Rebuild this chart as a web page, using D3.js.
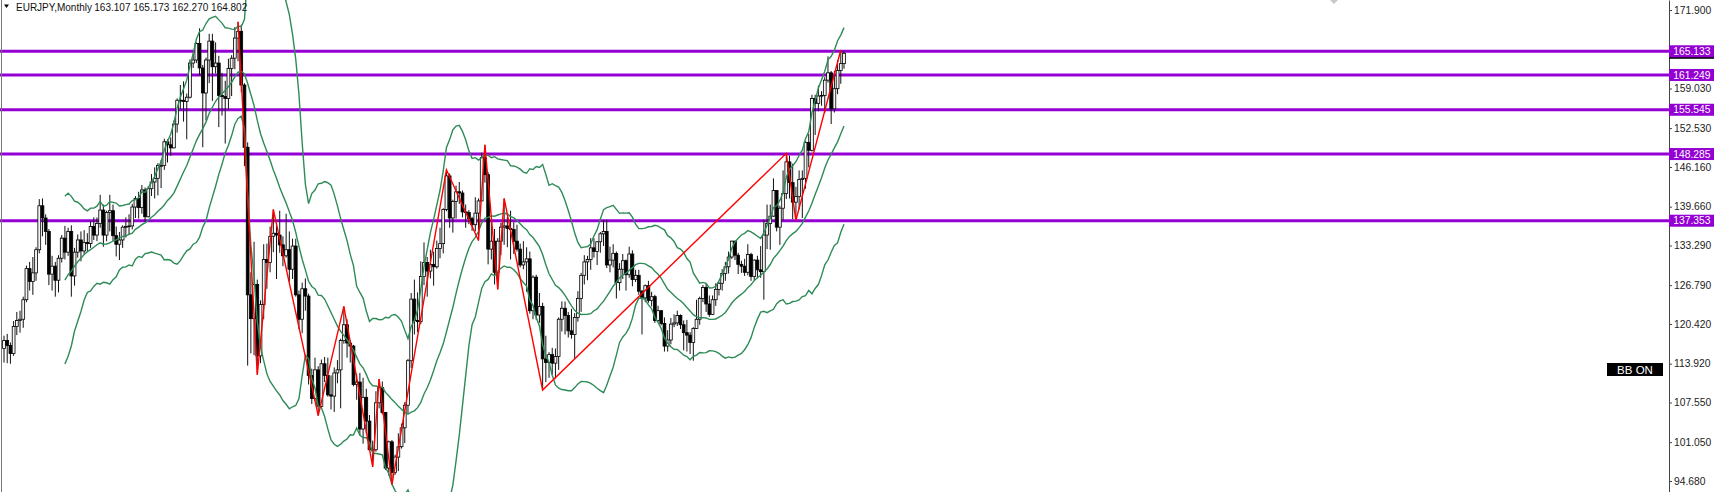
<!DOCTYPE html>
<html><head><meta charset="utf-8">
<script src="https://cdn.jsdelivr.net/npm/d3@7"></script>
<style>html,body{margin:0;padding:0;background:#fff;overflow:hidden}svg{display:block}</style>
</head><body>
<svg id="c" width="1718" height="492"></svg>
<script>
// ---- DATA (EURJPY monthly) ----
const startYear = 2002, startMonth = 6;   // first bar: 2002-06
const firstOpen = 116.4;
// closes, one line per year
const closes = [
 117.7,116.9,115.6,120.0,121.0,121.2,124.4,
 129.5,127.4,128.8,132.6,139.8,137.8,135.6,128.6,129.9,127.6,131.2,134.5,
 132.2,135.6,128.3,132.2,134.2,132.4,133.8,133.6,136.4,135.0,136.9,139.1,
 135.0,138.7,139.0,134.9,133.5,134.2,136.3,136.4,136.5,139.6,141.0,139.5,
 142.4,138.0,142.6,143.7,144.3,146.4,146.4,150.3,149.8,149.3,153.2,157.1,
 157.1,156.9,157.6,163.2,163.7,166.4,162.4,158.3,163.7,166.8,162.6,163.2,
 157.9,157.7,157.4,162.3,164.0,167.3,168.4,159.6,149.4,125.2,121.3,126.9,
 115.2,123.6,131.0,130.5,134.8,135.3,135.0,133.4,131.6,132.6,129.4,133.2,
 125.2,121.2,126.2,125.0,112.0,108.2,112.9,106.9,113.9,112.0,108.8,108.6,
 112.4,112.9,117.7,120.3,117.3,116.8,110.5,110.9,103.2,108.4,104.5,99.8,
 99.8,107.5,110.0,105.9,96.8,101.1,96.1,98.6,100.3,103.4,107.1,114.4,
 124.5,121.0,120.8,128.2,130.5,129.1,130.2,129.8,132.8,133.6,139.2,144.7,
 137.8,140.5,142.1,141.9,138.8,138.7,137.7,136.7,138.6,140.6,147.7,144.9,
 132.7,134.0,128.9,134.0,136.3,136.5,136.1,135.9,134.0,132.7,130.1,130.6,
 131.1,122.6,128.1,121.9,123.3,114.7,114.1,115.4,114.0,115.1,121.2,123.0,
 121.8,119.3,118.7,121.5,124.6,128.4,130.6,131.0,132.9,132.3,133.9,135.2,
 135.6,130.1,130.9,132.0,127.2,129.4,130.8,128.5,131.9,127.7,128.4,125.8,
 124.7,126.7,124.3,124.9,121.0,122.6,120.5,116.8,117.8,120.4,120.6,121.8,
 120.3,119.0,118.6,117.4,119.7,121.2,124.6,126.4,123.7,122.0,124.4,126.1,
 127.1,128.7,129.8,131.4,134.0,131.7,130.2,129.9,128.9,131.8,128.2,130.9,
 129.3,129.0,135.0,136.9,138.1,142.3,136.3,139.4,141.8,147.0,143.6,140.4,
 141.3,144.1,144.3,150.2,148.9,157.4,156.6,157.8,157.9,160.4,161.6,155.7,
 159.0,162.0,163.107,164.802
];
const highs = [
 118.5,118.8,117.4,120.9,122.4,122.6,124.9,
 130.0,130.6,131.4,133.0,140.9,141.0,138.4,136.0,131.6,130.6,131.7,135.0,
 136.5,136.2,136.6,132.9,135.1,135.6,135.8,135.3,137.3,137.9,137.9,141.6,
 140.0,139.0,141.6,140.0,136.4,135.5,136.6,137.9,138.4,140.1,141.4,142.1,
 143.2,142.8,143.0,145.0,146.1,146.8,147.3,150.8,150.7,151.0,153.8,157.4,
 159.6,160.2,158.2,163.8,164.8,166.6,168.9,162.9,164.1,168.0,168.0,166.6,
 164.4,161.6,160.3,163.9,164.5,169.1,169.96,169.5,159.9,150.2,128.9,133.9,
 127.7,124.3,133.5,133.6,136.4,139.2,136.6,139.0,134.8,138.5,135.6,134.4,
 134.4,125.9,127.2,127.9,125.4,113.1,114.9,113.5,114.6,115.0,114.9,112.0,
 113.3,114.5,118.0,123.3,121.2,117.8,117.0,112.3,112.4,111.6,109.8,105.5,
 101.3,109.4,111.4,111.0,106.0,101.3,101.4,99.0,102.5,104.1,107.6,114.7,
 125.5,127.7,125.6,130.7,133.8,131.4,132.6,132.3,134.1,136.2,139.4,145.7,
 145.1,140.8,143.1,143.7,142.3,140.0,139.1,138.0,141.2,141.0,148.5,149.8,
 145.3,137.7,136.0,134.5,137.0,141.0,138.0,139.0,137.1,136.7,133.6,134.0,
 133.0,132.3,128.4,128.5,125.5,123.9,118.5,115.8,116.5,116.4,121.5,124.1,
 124.1,122.4,122.9,122.2,125.8,128.8,131.7,131.6,134.5,134.5,134.0,135.5,
 137.5,137.5,133.1,133.5,132.3,130.4,131.9,131.0,133.1,132.5,129.3,129.3,
 126.0,126.9,127.5,125.7,125.2,123.4,122.7,121.5,119.4,121.4,122.0,122.6,
 122.0,121.0,121.1,119.1,119.9,124.4,124.9,126.8,127.1,125.1,125.1,127.1,
 127.3,129.4,130.6,132.3,134.1,134.1,132.1,130.8,131.1,133.5,132.1,131.0,
 131.6,133.2,137.5,140.0,140.0,144.3,142.3,139.8,145.6,148.4,148.0,146.7,
 142.9,145.6,145.6,150.4,151.6,158.0,158.0,159.5,158.6,160.9,164.3,161.9,
 161.9,163.7,165.35,165.173
];
const lows = [
 114.1,114.0,113.9,115.2,118.6,119.0,119.8,
 124.0,125.9,125.2,127.5,132.0,134.8,133.4,126.8,125.9,124.9,125.6,130.5,
 131.0,131.6,124.9,126.7,131.3,130.7,131.9,132.3,132.9,134.2,134.0,136.2,
 133.1,134.0,135.6,134.0,131.5,130.9,132.9,134.6,135.0,135.9,137.8,137.7,
 138.5,137.2,137.9,141.4,141.0,141.5,142.7,145.7,146.9,148.0,149.2,151.8,
 155.7,153.6,150.7,157.4,162.4,163.2,161.2,149.4,153.8,159.9,157.0,161.5,
 152.7,154.6,150.0,155.6,157.8,162.2,163.5,158.4,146.3,113.6,115.6,115.3,
 112.1,114.0,121.2,126.2,128.9,132.2,127.8,132.1,129.9,131.3,127.4,127.8,
 124.9,119.6,118.9,122.6,110.5,107.3,107.8,105.4,106.6,110.9,108.5,106.4,
 106.0,110.7,106.6,117.2,114.9,114.1,110.2,108.0,102.2,100.8,102.5,99.7,
 97.0,99.5,106.6,105.6,96.5,95.6,94.1,95.7,96.3,100.0,100.9,105.8,
 113.2,118.7,119.1,120.4,126.8,124.9,127.9,126.7,129.5,131.2,132.0,138.9,
 136.2,135.4,137.7,140.1,137.9,136.2,136.8,135.7,135.6,134.1,140.5,143.6,
 130.2,131.0,126.9,126.1,131.7,133.4,133.0,131.0,131.9,132.3,129.7,129.4,
 125.7,122.1,121.2,121.1,120.6,109.6,110.9,111.6,112.1,111.5,112.9,119.2,
 118.7,118.2,118.0,114.8,120.8,122.4,126.9,127.6,129.3,131.3,130.1,132.1,
 133.2,129.6,128.9,129.7,124.6,125.9,127.8,125.9,128.0,126.6,127.3,125.2,
 118.7,124.0,123.9,123.3,120.6,120.8,120.2,115.9,115.9,117.1,119.9,120.1,
 119.6,116.1,115.9,115.5,114.4,119.6,120.3,124.0,122.4,121.6,121.9,123.4,
 125.1,125.9,127.5,128.7,131.1,130.9,128.6,128.8,128.3,128.4,127.5,127.5,
 127.9,128.0,124.4,132.7,132.6,138.0,135.6,133.4,137.4,140.9,141.0,137.6,
 137.4,139.2,137.8,142.6,146.1,148.7,151.4,155.3,156.2,155.0,160.0,153.2,
 155.1,158.1,159.8,162.270
];
// ZigZag pivots (month, price)
const zigzagMonths = ["2008-07","2009-01","2009-06","2010-08","2011-04","2012-01","2012-03","2012-07","2013-12","2014-10","2014-12","2015-04","2015-06","2016-06","2022-10","2023-01","2024-03"];
const zigzagPrices = [169.96,112.1,139.2,105.4,123.3,97.0,111.4,94.1,145.7,134.1,149.8,126.1,141.0,109.6,148.4,137.4,165.35];
// horizontal levels
const levels = [165.133, 161.249, 155.545, 148.285, 137.353];
const bidPrice = 164.802;
// price axis tick labels
const yTicks = [171.900, 159.030, 152.530, 146.160, 139.660, 133.290, 126.790, 120.420, 113.920, 107.550, 101.050, 94.680];
const titleSymbol = "EURJPY,Monthly";
const titleOHLC = "163.107 165.173 162.270 164.802";
const bbPeriod = 20, bbDev = 2;

// ---- BUILD ----
const n = closes.length;
const months = d3.timeMonth.range(new Date(startYear, startMonth-1, 1), new Date(startYear, startMonth-1+n, 1)).map(d3.timeFormat("%Y-%m"));
const opens = [firstOpen].concat(closes.slice(0, -1)); // FX monthly open = previous close
const bars = months.map((m, i) => ({m, i, o: opens[i], h: highs[i], l: lows[i], c: closes[i]}));

// Bollinger Bands (20, 2) on closes
const bb = bars.map((b, i) => {
  if (i < bbPeriod - 1) return null;
  const w = closes.slice(i - bbPeriod + 1, i + 1);
  const ma = d3.mean(w);
  const sd = Math.sqrt(d3.sum(w, v => (v - ma) * (v - ma)) / bbPeriod);
  return {i, mid: ma, up: ma + bbDev * sd, dn: ma - bbDev * sd};
});

const W = 1718, H = 492, axisX = 1669;
const svg = d3.select("#c");
const x = d3.scaleLinear().domain([0, n - 1]).range([4, 844]);
const y = d3.scaleLinear().domain([92.877, 173.54]).range([H, 0]);

svg.append("rect").attr("width", W).attr("height", H).attr("fill", "#fff");
svg.append("defs").append("clipPath").attr("id", "plot")
  .append("rect").attr("x", 0).attr("y", 0).attr("width", axisX).attr("height", H);

const plot = svg.append("g").attr("clip-path", "url(#plot)");

// horizontal levels
plot.selectAll("line.lvl").data(levels).join("line").attr("class", "lvl")
  .attr("x1", 0).attr("x2", axisX).attr("y1", d => y(d)).attr("y2", d => y(d))
  .attr("stroke", "#9400d3").attr("stroke-width", 3);

// candles
const cg = plot.append("g");
cg.selectAll("line.wick").data(bars).join("line").attr("class", "wick")
  .attr("x1", d => x(d.i)).attr("x2", d => x(d.i))
  .attr("y1", d => y(d.h)).attr("y2", d => y(d.l))
  .attr("stroke", "#111").attr("stroke-width", 1);
cg.selectAll("rect.body").data(bars).join("rect").attr("class", "body")
  .attr("x", d => x(d.i) - 1.4).attr("width", 2.8)
  .attr("y", d => y(Math.max(d.o, d.c)))
  .attr("height", d => Math.max(0.8, Math.abs(y(d.o) - y(d.c))))
  .attr("fill", d => d.c >= d.o ? "#f4f4f4" : "#000")
  .attr("stroke", "#000").attr("stroke-width", 0.8);

// Bollinger bands
const bbData = bb.filter(d => d);
["up", "mid", "dn"].forEach(k => {
  plot.append("path").datum(bbData)
    .attr("d", d3.line().x(d => x(d.i)).y(d => y(d[k])).curve(d3.curveLinear))
    .attr("fill", "none").attr("stroke", "#2e8b57").attr("stroke-width", 1.4);
});

// zigzag
const zz = zigzagMonths.map((m, k) => ({i: months.indexOf(m), p: zigzagPrices[k]}));
plot.append("path").datum(zz)
  .attr("d", d3.line().x(d => x(d.i)).y(d => y(d.p)))
  .attr("fill", "none").attr("stroke", "#ff0000").attr("stroke-width", 1.4);

// left border
svg.append("line").attr("x1", 1.5).attr("x2", 1.5).attr("y1", 0).attr("y2", H)
  .attr("stroke", "#777").attr("stroke-width", 1);

// price axis
const axis = d3.axisRight(y).tickValues(yTicks).tickSize(3).tickSizeOuter(0).tickPadding(2)
  .tickFormat(d3.format(".3f"));
const ag = svg.append("g").attr("transform", `translate(${axisX},0)`).call(axis);
ag.select(".domain").attr("stroke", "#444");
ag.selectAll(".tick line").attr("stroke", "#444");
ag.selectAll(".tick text").attr("fill", "#222")
  .style("font-family", "'Liberation Sans', Arial, sans-serif").style("font-size", "10.3px");

// bid label (mostly hidden under level label)
svg.append("rect").attr("x", axisX).attr("y", y(bidPrice) - 5.5).attr("width", 45).attr("height", 11).attr("fill", "#000");

// level labels
const lg = svg.append("g").selectAll("g").data(levels).join("g")
  .attr("transform", d => `translate(${axisX},${y(d)})`);
lg.append("rect").attr("x", 0).attr("y", -6).attr("width", 45).attr("height", 12).attr("fill", "#9400d3");
lg.append("text").attr("x", 4.3).attr("dy", "0.36em").text(d => d3.format(".3f")(d))
  .attr("fill", "#fff").style("font-family", "'Liberation Sans', Arial, sans-serif").style("font-size", "10.3px");

// title
svg.append("path").attr("d", "M4,4.5 L9,4.5 L6.5,8 Z").attr("fill", "#000");
svg.append("text").attr("x", 16).attr("y", 10.5).text(titleSymbol)
  .attr("fill", "#111").style("font-family", "'Liberation Sans', Arial, sans-serif").style("font-size", "10px");
svg.append("text").attr("x", 94.3).attr("y", 10.5).text(titleOHLC)
  .attr("fill", "#111").style("font-family", "'Liberation Sans', Arial, sans-serif").style("font-size", "10px");

// small gray marker at top
svg.append("path").attr("d", "M1330,0 L1338,0 L1334,4 Z").attr("fill", "#c8c8c8");

// BB ON label
const bbg = svg.append("g").attr("transform", "translate(1607,363)");
bbg.append("rect").attr("width", 56).attr("height", 13).attr("fill", "#000");
bbg.append("text").attr("x", 28).attr("y", 6.5).attr("dy", "0.36em").attr("text-anchor", "middle").text("BB ON")
  .attr("fill", "#fff").style("font-family", "'Liberation Sans', Arial, sans-serif").style("font-size", "11.5px");
</script>
</body></html>
